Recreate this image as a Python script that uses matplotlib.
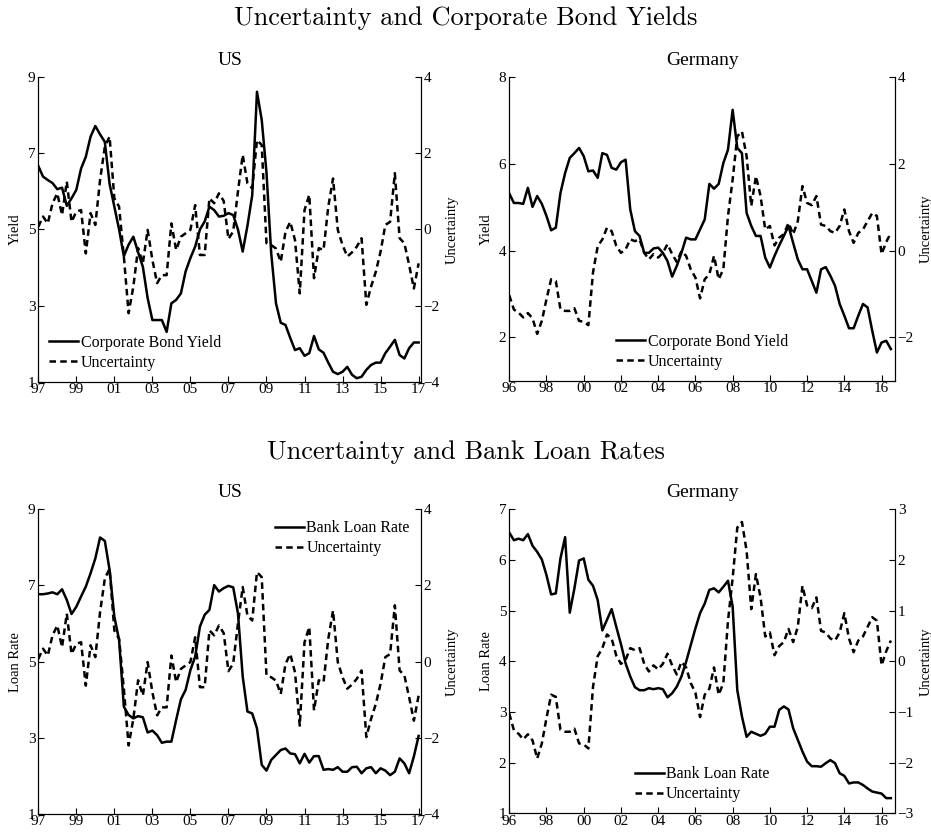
import numpy as np
import matplotlib
matplotlib.use("Agg")
import matplotlib.pyplot as plt

plt.rcParams['font.family'] = ['Liberation Serif', 'DejaVu Serif']

# quarterly data, US starts 1997Q1, Germany starts 1996Q1
us_start = 1997.0
de_start = 1996.0

us_bond_yield = [
    6.67, 6.39, 6.30, 6.22,  # 97
    6.06, 6.10, 5.62, 5.82,  # 98
    6.04, 6.60, 6.91, 7.44,  # 99
    7.72, 7.50, 7.30, 6.20,  # 00
    5.60, 5.00, 4.30, 4.60,  # 01
    4.81, 4.40, 4.02, 3.20,  # 02
    2.62, 2.62, 2.62, 2.31,  # 03
    3.06, 3.15, 3.32, 3.90,  # 04
    4.25, 4.55, 5.00, 5.21,  # 05
    5.60, 5.51, 5.34, 5.36,  # 06
    5.43, 5.38, 5.00, 4.42,  # 07
    5.10, 5.90, 8.62, 7.88,  # 08
    6.50, 4.37, 3.06, 2.55,  # 09
    2.49, 2.15, 1.83, 1.88,  # 10
    1.68, 1.75, 2.20, 1.85,  # 11
    1.76, 1.50, 1.26, 1.20,  # 12
    1.26, 1.39, 1.18, 1.09,  # 13
    1.13, 1.31, 1.44, 1.50,  # 14
    1.50, 1.75, 1.92, 2.10,  # 15
    1.70, 1.61, 1.88, 2.03,  # 16
    2.03,                    # 17
]

us_uncertainty = [
    0.07, 0.34, 0.16, 0.69,
    0.95, 0.38, 1.26, 0.20,
    0.47, 0.51, -0.63, 0.43,
    0.12, 1.30, 2.18, 2.44,
    0.82, 0.60, -0.71, -2.20,
    -1.50, -0.49, -0.89, -0.01,
    -0.80, -1.41, -1.20, -1.20,
    0.16, -0.54, -0.19, -0.10,
    -0.01, 0.64, -0.67, -0.67,
    0.82, 0.69, 0.95, 0.75,
    -0.25, -0.05, 1.00, 1.96,
    1.21, 1.08, 2.35, 2.22,
    -0.36, -0.41, -0.50, -0.85,
    -0.06, 0.20, -0.28, -1.68,
    0.51, 0.91, -1.28, -0.49,
    -0.54, 0.60, 1.34, -0.01,
    -0.41, -0.71, -0.60, -0.45,
    -0.23, -1.98, -1.50, -1.11,
    -0.58, 0.12, 0.20, 1.48,
    -0.23, -0.36, -0.93, -1.55,
    -0.89,
]

us_loan_rate = [
    6.77, 6.77, 6.79, 6.82,
    6.77, 6.90, 6.62, 6.25,
    6.44, 6.71, 6.97, 7.32,
    7.71, 8.26, 8.17, 7.41,
    6.18, 5.57, 3.82, 3.60,
    3.51, 3.57, 3.54, 3.14,
    3.19, 3.07, 2.87, 2.90,
    2.90, 3.47, 4.01, 4.26,
    4.78, 5.13, 5.92, 6.23,
    6.36, 7.01, 6.84, 6.93,
    6.99, 6.95, 6.27, 4.61,
    3.69, 3.64, 3.25, 2.29,
    2.14, 2.42, 2.55, 2.68,
    2.72, 2.59, 2.57, 2.33,
    2.58, 2.35, 2.52, 2.52,
    2.16, 2.18, 2.16, 2.23,
    2.11, 2.11, 2.23, 2.24,
    2.07, 2.20, 2.23, 2.07,
    2.20, 2.14, 2.02, 2.11,
    2.46, 2.33, 2.07, 2.51,
    3.05,
]

de_bond_yield = [
    5.32, 5.10, 5.10, 5.08,  # 96
    5.45, 5.01, 5.26, 5.08,  # 97
    4.80, 4.47, 4.53, 5.33,  # 98
    5.79, 6.14, 6.25, 6.37,  # 99
    6.18, 5.83, 5.85, 5.68,  # 00
    6.25, 6.21, 5.91, 5.87,  # 01
    6.04, 6.10, 4.95, 4.45,  # 02
    4.34, 3.95, 3.95, 4.05,  # 03
    4.07, 3.95, 3.76, 3.40,  # 04
    3.65, 3.95, 4.30, 4.26,  # 05
    4.26, 4.49, 4.72, 5.54,  # 06
    5.43, 5.54, 6.02, 6.33,  # 07
    7.25, 6.37, 6.25, 4.87,  # 08
    4.57, 4.34, 4.34, 3.84,  # 09
    3.61, 3.88, 4.12, 4.34,  # 10
    4.57, 4.18, 3.80, 3.57,  # 11
    3.57, 3.30, 3.03, 3.57,  # 12
    3.62, 3.42, 3.19, 2.77,  # 13
    2.50, 2.21, 2.21, 2.50,  # 14
    2.77, 2.69, 2.15, 1.65,  # 15
    1.88, 1.92, 1.73,        # 16
]

de_uncertainty = [
    -1.03, -1.36, -1.43, -1.54,
    -1.44, -1.56, -1.92, -1.62,
    -1.12, -0.66, -0.70, -1.35,
    -1.39, -1.39, -1.33, -1.62,
    -1.64, -1.72, -0.50, 0.10,
    0.26, 0.53, 0.45, 0.11,
    -0.05, 0.03, 0.26, 0.22,
    0.26, -0.05, -0.20, -0.08,
    -0.16, -0.05, 0.15, -0.08,
    -0.26, -0.01, -0.12, -0.43,
    -0.62, -1.10, -0.66, -0.54,
    -0.12, -0.66, -0.43, 0.80,
    1.64, 2.64, 2.75, 2.18,
    1.03, 1.72, 1.26, 0.49,
    0.57, 0.12, 0.30, 0.38,
    0.64, 0.38, 0.68, 1.49,
    1.10, 1.05, 1.26, 0.60,
    0.57, 0.45, 0.41, 0.57,
    0.95, 0.45, 0.18, 0.41,
    0.49, 0.68, 0.87, 0.80,
    -0.08, 0.20, 0.41,
]

de_loan_rate = [
    6.54, 6.39, 6.42, 6.39,
    6.51, 6.28, 6.16, 6.01,
    5.70, 5.32, 5.34, 6.03,
    6.45, 4.96, 5.44, 5.99,
    6.03, 5.61, 5.49, 5.21,
    4.61, 4.82, 5.03, 4.68,
    4.34, 3.96, 3.70, 3.49,
    3.43, 3.43, 3.47, 3.45,
    3.47, 3.45, 3.29, 3.37,
    3.50, 3.70, 3.99, 4.32,
    4.65, 4.95, 5.14, 5.41,
    5.44, 5.36, 5.47, 5.59,
    5.08, 3.43, 2.91, 2.51,
    2.61, 2.57, 2.53, 2.57,
    2.71, 2.71, 3.04, 3.11,
    3.05, 2.68, 2.45, 2.22,
    2.02, 1.93, 1.93, 1.92,
    1.99, 2.05, 1.99, 1.79,
    1.74, 1.59, 1.61, 1.61,
    1.56, 1.49, 1.43, 1.41,
    1.39, 1.30, 1.30,
]

us_ticks = list(range(1997, 2018, 2))
de_ticks = list(range(1996, 2017, 2))


def quarters(start, n):
    return start + 0.25 * np.arange(n)


def panel(rect, title, x0, rate, unc, rate_label, rate_name,
          xlim, xticks, ylim, yticks, y2lim, y2ticks, legend_kw):
    ax = fig.add_axes(rect)
    ax2 = ax.twinx()
    x = quarters(x0, len(rate))
    xu = quarters(x0, len(unc))
    l1, = ax.plot(x, rate, color='black', lw=1.8, label=rate_name)
    l2, = ax2.plot(xu, unc, color='black', lw=1.8, ls=(0, (2.6, 1.7)),
                   label='Uncertainty')
    ax.set_xlim(*xlim)
    ax.set_ylim(*ylim)
    ax2.set_ylim(*y2lim)
    ax.set_xticks(xticks)
    ax.set_xticklabels([f'{t % 100:02d}' for t in xticks])
    ax.set_yticks(yticks)
    ax2.set_yticks(y2ticks)
    for a in (ax, ax2):
        a.spines['top'].set_visible(False)
        a.tick_params(direction='in', length=4, width=0.8, labelsize=11,
                      pad=2)
    ax.tick_params(axis='x', pad=1)
    ax.set_ylabel(rate_label, fontsize=10.5)
    ax2.set_ylabel('Uncertainty', fontsize=10.5)
    ax.set_title(title, fontsize=14, pad=9)
    ax.legend([l1, l2], [rate_name, 'Uncertainty'], frameon=False,
              fontsize=11.5, handlelength=1.8, handletextpad=0.15,
              labelspacing=0.25, **legend_kw)
    return ax


fig = plt.figure(figsize=(9.31, 8.33), dpi=100)

panel([0.0411, 0.5418, 0.411, 0.3654], 'US', us_start, us_bond_yield,
      us_uncertainty, 'Yield', 'Corporate Bond Yield',
      (1997, 2017.12), us_ticks, (1, 9), [1, 3, 5, 7, 9], (-4, 4),
      [-4, -2, 0, 2, 4],
      dict(loc='lower left', bbox_to_anchor=(0.0, 0.0), borderaxespad=0.3))

panel([0.547, 0.543, 0.4143, 0.3642], 'Germany', de_start, de_bond_yield,
      de_uncertainty, 'Yield', 'Corporate Bond Yield',
      (1996, 2016.72), de_ticks, (1, 8), [2, 4, 6, 8], (-3, 4),
      [-2, 0, 2, 4],
      dict(loc='lower center', bbox_to_anchor=(0.5, 0.0), borderaxespad=0.3))

panel([0.0411, 0.0228, 0.411, 0.3658], 'US', us_start, us_loan_rate,
      us_uncertainty, 'Loan Rate', 'Bank Loan Rate',
      (1997, 2017.12), us_ticks, (1, 9), [1, 3, 5, 7, 9], (-4, 4),
      [-4, -2, 0, 2, 4],
      dict(loc='upper right', bbox_to_anchor=(1.0, 1.0), borderaxespad=0.3))

panel([0.547, 0.0236, 0.4143, 0.365], 'Germany', de_start, de_loan_rate,
      de_uncertainty, 'Loan Rate', 'Bank Loan Rate',
      (1996, 2016.72), de_ticks, (1, 7), [1, 2, 3, 4, 5, 6, 7], (-3, 3),
      [-3, -2, -1, 0, 1, 2, 3],
      dict(loc='lower center', bbox_to_anchor=(0.5, 0.0), borderaxespad=0.3))

fig.text(0.5, 0.978, 'Uncertainty and Corporate Bond Yields',
         family='cmr10', fontsize=19, ha='center', va='center')
fig.text(0.5, 0.457, 'Uncertainty and Bank Loan Rates',
         family='cmr10', fontsize=19, ha='center', va='center')

fig.savefig('out.png', dpi=100)
